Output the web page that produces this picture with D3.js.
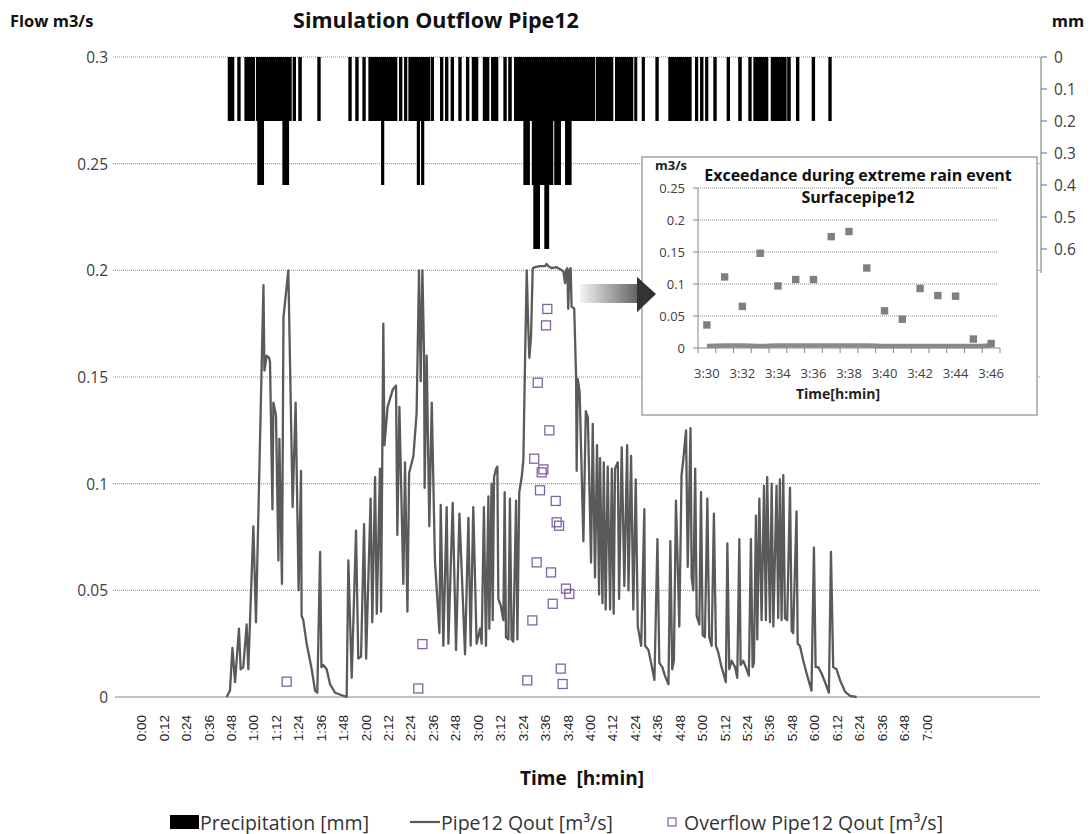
<!DOCTYPE html>
<html><head><meta charset="utf-8">
<script src="https://cdn.jsdelivr.net/npm/d3@7/dist/d3.min.js"></script>
<style>
body{margin:0;background:#fff;}
svg text{font-family:"Open Sans",Lato,sans-serif;}
</style></head><body>
<svg id="chart" width="1091" height="834"></svg>
<script>
// ---------------- DATA ----------------
const xTickLabels = ["0:00","0:12","0:24","0:36","0:48","1:00","1:12","1:24","1:36","1:48","2:00","2:12","2:24","2:36","2:48","3:00","3:12","3:24","3:36","3:48","4:00","4:12","4:24","4:36","4:48","5:00","5:12","5:24","5:36","5:48","6:00","6:12","6:24","6:36","6:48","7:00"];
const yTicks = [0, 0.05, 0.1, 0.15, 0.2, 0.25, 0.3];
const yTickLabels = ["0","0.05","0.1","0.15","0.2","0.25","0.3"];
const rTicks = [0, 0.1, 0.2, 0.3, 0.4, 0.5, 0.6];
const rTickLabels = ["0","0.1","0.2","0.3","0.4","0.5","0.6"];

// precipitation intervals [start min, end min] per depth level (mm)
const precipLevels = [0.2, 0.4, 0.6];
const precip02 = [[46.0,49.5],[51.1,52.9],[54.9,60.6],[61.1,80.2],[80.7,82.5],[83.7,85.6],[93.9,95.7],[110.5,112.3],[114.2,116.0],[118.0,119.8],[121.2,136.7],[137.6,139.4],[140.3,142.0],[142.6,154.2],[154.5,156.3],[159.5,161.3],[162.2,164.0],[165.2,167.0],[169.3,171.1],[173.4,175.2],[176.5,180.0],[182.4,185.9],[186.8,190.7],[193.4,195.2],[196.0,197.9],[199.1,242.4],[242.8,252.2],[253.1,262.9],[263.4,265.0],[267.4,269.1],[274.7,276.5],[281.6,294.1],[295.9,297.6],[298.6,300.4],[301.3,303.0],[305.7,307.5],[312.8,314.6],[319.0,320.9],[324.4,326.2],[327.1,335.1],[336.4,344.9],[345.2,347.1],[349.9,351.7],[358.3,360.1],[367.2,369.0]];
const precip04 = [[61.8,65.4],[75.2,78.8],[128.0,129.7],[147.1,148.8],[149.4,151.1],[204.1,207.6],[208.6,220.1],[220.6,224.2],[226.4,229.9]];
const precip06 = [[209.4,213.0],[215.3,217.9]];

// Pipe12 Qout [minute, m3/s]
const pipeQ = [[45.4,0],[47.2,0.003],[48.5,0.023],[49.9,0.007],[52.0,0.032],[52.9,0.013],[54.3,0.014],[56.1,0.034],[57.0,0.013],[59.7,0.080],[61.1,0.035],[65.1,0.193],[65.6,0.153],[66.8,0.160],[68.1,0.159],[68.6,0.157],[69.9,0.088],[70.4,0.138],[71.8,0.132],[73.1,0.064],[73.6,0.121],[75.0,0.053],[75.8,0.178],[78.4,0.200],[80.7,0.089],[82.3,0.138],[83.9,0.050],[85.2,0.106],[85.5,0.038],[86.4,0.036],[88.2,0.025],[90.9,0.013],[92.7,0.003],[93.9,0.002],[95.4,0.068],[96.1,0.014],[97.1,0.015],[98.9,0.013],[100.7,0.006],[103.4,0.002],[109.6,0],
[110.5,0.064],[112.3,0.009],[114.6,0.078],[115.8,0.018],[117.3,0.019],[118.9,0.081],[120.0,0.018],[122.4,0.093],[123.3,0.035],[124.8,0.103],[125.7,0.039],[127.4,0.107],[128.0,0.040],[129.2,0.175],[129.8,0.118],[131.5,0.136],[134.2,0.144],[136.0,0.146],[136.7,0.076],[137.8,0.136],[139.9,0.053],[140.8,0.110],[142.1,0.040],[143.0,0.105],[145.3,0.113],[147.0,0.133],[148.3,0.200],[149.2,0.148],[150.1,0.200],[151.0,0.160],[151.3,0.098],[152.4,0.160],[153.8,0.080],[155.1,0.138],[156.8,0.064],[159.2,0.030],[159.9,0.090],[161.3,0.024],[163.1,0.089],[164.0,0.025],[166.3,0.091],[168.1,0.022],[169.9,0.086],[172.9,0.020],[174.7,0.084],[175.9,0.024],[177.3,0.089],[179.1,0.025],
[180.9,0.032],[181.8,0.025],[183.0,0.089],[184.1,0.024],[185.4,0.094],[185.9,0.032],[187.1,0.100],[187.7,0.036],[188.4,0.103],[189.5,0.107],[190.2,0.108],[190.7,0.046],[192.0,0.043],[193.4,0.036],[194.1,0.096],[194.8,0.028],[196.1,0.027],[196.9,0.093],[197.8,0.027],[198.7,0.026],[200.2,0.092],[200.9,0.027],[201.9,0.096],[203.2,0.103],[204.1,0.111],[205.0,0.158],[205.9,0.200],[206.7,0.174],[207.3,0.159],[208.2,0.169],[209.1,0.201],[210.3,0.2015],[213.0,0.202],[215.7,0.202],[216.5,0.203],[217.4,0.202],[219.2,0.201],[221.9,0.2015],[224.6,0.200],[225.5,0.1995],[226.4,0.194],[226.9,0.200],[227.6,0.201],[228.1,0.182],[228.7,0.200],[229.4,0.201],[229.9,0.183],[231.3,0.182],[232.3,0.150],[232.6,0.106],[233.2,0.149],[234.2,0.143],[236.2,0.073],[237.5,0.134],[238.6,0.131],[240.3,0.063],[241.2,0.128],[242.4,0.056],[243.5,0.118],[244.6,0.048],[245.1,0.112],[246.4,0.044],[247.1,0.110],[248.1,0.041],[249.2,0.108],[250.5,0.041],[251.4,0.107],[252.4,0.039],[253.1,0.107],[254.6,0.110],[255.3,0.046],[256.7,0.117],[258.1,0.052],[259.6,0.118],[260.3,0.050],[261.7,0.113],[262.9,0.041],[264.2,0.102],[265.3,0.033],[267.1,0.024],[268.8,0.088],[269.2,0.024],[271.0,0.022],[272.4,0.016],[274.2,0.008],[275.8,0.074],[276.8,0.016],[278.4,0.014],[279.8,0.010],[281.7,0.006],[282.7,0.073],[283.7,0.013],
[284.6,0.017],[285.7,0.092],[286.4,0.070],[287.5,0.033],[288.7,0.104],[289.6,0.111],[291.1,0.125],[292.0,0.061],[293.5,0.126],[294.1,0.056],[295.0,0.050],[296.0,0.107],[296.8,0.038],[298.2,0.034],[299.1,0.096],[300.0,0.029],[301.2,0.028],[302.5,0.093],[303.5,0.028],[304.8,0.024],[306.0,0.086],[307.1,0.024],[308.3,0.021],[310.1,0.014],[312.4,0.007],[313.2,0.072],[314.2,0.013],[315.5,0.017],[317.3,0.014],[318.5,0.009],[319.6,0.074],[320.3,0.015],[321.7,0.017],[323.5,0.013],[324.7,0.010],[325.8,0.074],[326.7,0.014],[327.4,0.016],[328.5,0.085],[329.2,0.027],[330.3,0.093],[331.5,0.036],[332.8,0.099],[333.8,0.036],[334.5,0.103],[336.0,0.035],[336.9,0.100],[337.8,0.033],[339.5,0.099],[340.4,0.037],[341.3,0.102],[342.2,0.036],[343.1,0.104],[344.0,0.037],[345.2,0.036],[346.7,0.098],[347.6,0.031],[348.4,0.030],[350.2,0.087],[350.8,0.025],[352.0,0.024],[353.8,0.017],[355.6,0.011],[358.2,0.003],[359.5,0.070],[360.4,0.014],[361.8,0.014],[363.6,0.011],[365.4,0.007],[367.5,0.002],[368.6,0.068],[369.8,0.014],[371.6,0.013],[373.4,0.008],[376.1,0.0025],[378.8,0.0005],[382.3,0]];

// Overflow Pipe12 Qout
const overflowMinutes = [77.5,147.9,150.1,206.2,208.9,209.9,211.2,211.8,213.0,213.9,214.8,216.2,216.9,218.0,218.9,219.8,221.4,221.9,223.2,224.1,225.1,226.9,228.7];
const overflowQ = [0.0072,0.004,0.0248,0.0078,0.0359,0.1117,0.0631,0.1473,0.0969,0.1053,0.1067,0.1742,0.1819,0.125,0.0584,0.0437,0.0919,0.0819,0.0803,0.0133,0.0061,0.0508,0.0483];

// Inset: exceedance during extreme rain event
const insetTimes = ["3:30","3:31","3:32","3:33","3:34","3:35","3:36","3:37","3:38","3:39","3:40","3:41","3:42","3:43","3:44","3:45","3:46"];
const insetExceed = [0.036,0.111,0.065,0.148,0.097,0.107,0.107,0.174,0.182,0.125,0.058,0.045,0.093,0.082,0.081,0.014,0.007];
const insetSurface = [0.003,0.004,0.004,0.003,0.004,0.004,0.004,0.004,0.004,0.004,0.003,0.003,0.003,0.003,0.003,0.003,0.004];
const insetYTicks = [0,0.05,0.1,0.15,0.2,0.25];
const insetYLabels = ["0","0.05","0.1","0.15","0.2","0.25"];

// ---------------- CHART ----------------
const svg = d3.select("#chart");
const toMin = s => { const p = s.split(":"); return +p[0]*60 + +p[1]; };

const x = d3.scaleLinear().domain([-14.3, 480.4]).range([115, 1040]);
const y = d3.scaleLinear().domain([0, 0.3]).range([697, 57]);
const yR = d3.scaleLinear().domain([0, 2]).range([57, 697]);

// gridlines
svg.append("g").selectAll("line").data(yTicks.filter(d => d > 0)).join("line")
  .attr("x1", 113).attr("x2", 1040).attr("y1", d => y(d)).attr("y2", d => y(d))
  .attr("stroke", "#8c8c8c").attr("stroke-width", 1).attr("stroke-dasharray", "1,1");

// left tick labels
svg.append("g").selectAll("text").data(yTicks).join("text")
  .attr("x", 108).attr("y", d => y(d)).attr("text-anchor", "end").attr("dominant-baseline", "central")
  .attr("font-size", 15.5).attr("fill", "#404040").text((d, i) => yTickLabels[i]);

// x axis
svg.append("line").attr("x1", 115).attr("x2", 1040).attr("y1", y(0)).attr("y2", y(0))
  .attr("stroke", "#868686").attr("stroke-width", 1.2);
svg.append("g").selectAll("text").data(xTickLabels).join("text")
  .attr("transform", d => `translate(${x(toMin(d))},715) rotate(-90)`)
  .attr("text-anchor", "end").attr("dominant-baseline", "central")
  .style("font-family", "'Liberation Sans',Arial,sans-serif")
  .attr("font-size", 13.5).attr("fill", "#222").text(d => d);

// right axis
const rG = svg.append("g");
rG.append("line").attr("x1", 1041).attr("x2", 1041).attr("y1", yR(0)).attr("y2", yR(0.675))
  .attr("stroke", "#868686").attr("stroke-width", 1.2);
rG.selectAll("line.t").data(rTicks).join("line").attr("class", "t")
  .attr("x1", 1041).attr("x2", 1047).attr("y1", d => yR(d)).attr("y2", d => yR(d))
  .attr("stroke", "#868686").attr("stroke-width", 1.2);
rG.selectAll("text").data(rTicks).join("text")
  .attr("x", 1054).attr("y", d => yR(d)).attr("dominant-baseline", "central")
  .attr("font-size", 15.5).attr("fill", "#404040").text((d, i) => rTickLabels[i]);

// precipitation bars
[precip02, precip04, precip06].forEach((runs, li) => {
  svg.append("g").selectAll("rect").data(runs).join("rect")
    .attr("x", d => x(d[0])).attr("width", d => x(d[1]) - x(d[0]))
    .attr("y", yR(0)).attr("height", yR(precipLevels[li]) - yR(0))
    .attr("fill", "#000");
});

// flow line
svg.append("path").datum(pipeQ)
  .attr("d", d3.line().x(d => x(d[0])).y(d => y(d[1])))
  .attr("fill", "none").attr("stroke", "#5a5a5a").attr("stroke-width", 2.3)
  .attr("stroke-linejoin", "round");

// overflow squares
svg.append("g").selectAll("rect").data(overflowMinutes).join("rect")
  .attr("x", d => x(d) - 4.5).attr("y", (d, i) => y(overflowQ[i]) - 4.5)
  .attr("width", 9).attr("height", 9)
  .attr("fill", "none").attr("stroke", "#8064a2").attr("stroke-width", 1.3);

// titles
svg.append("text").attr("x", 10).attr("y", 27).attr("font-size", 16.5).attr("font-weight", "bold")
  .attr("fill", "#111").text("Flow m3/s");
svg.append("text").attr("x", 436).attr("y", 28).attr("text-anchor", "middle").attr("font-size", 21.5)
  .attr("font-weight", "bold").attr("fill", "#111").text("Simulation Outflow Pipe12");
svg.append("text").attr("x", 1068).attr("y", 27).attr("text-anchor", "middle").attr("font-size", 16.5)
  .attr("font-weight", "bold").attr("fill", "#111").text("mm");
svg.append("text").attr("x", 582).attr("y", 778).attr("text-anchor", "middle").attr("dominant-baseline", "central")
  .attr("font-size", 19).attr("font-weight", "bold").attr("fill", "#111")
  .style("white-space", "pre").text("Time  [h:min]");

// legend
const lg = svg.append("g").attr("font-size", 19.5);
lg.append("rect").attr("x", 170).attr("y", 815).attr("width", 29).attr("height", 14).attr("fill", "#000");
lg.append("text").attr("x", 200).attr("y", 822).attr("dominant-baseline", "central").attr("fill", "#333").text("Precipitation [mm]");
lg.append("line").attr("x1", 410).attr("x2", 440).attr("y1", 822).attr("y2", 822).attr("stroke", "#5a5a5a").attr("stroke-width", 2.2);
lg.append("text").attr("x", 441).attr("y", 822).attr("dominant-baseline", "central").attr("fill", "#333").text("Pipe12 Qout [m³/s]");
lg.append("rect").attr("x", 668).attr("y", 818).attr("width", 8).attr("height", 8).attr("fill", "none").attr("stroke", "#8064a2").attr("stroke-width", 1.2);
lg.append("text").attr("x", 684).attr("y", 822).attr("dominant-baseline", "central").attr("fill", "#333").text("Overflow Pipe12 Qout [m³/s]");

// arrow
const defs = svg.append("defs");
const grad = defs.append("linearGradient").attr("id", "arrowGrad").attr("x1", "0%").attr("x2", "100%");
grad.append("stop").attr("offset", "0%").attr("stop-color", "#f4f4f4");
grad.append("stop").attr("offset", "100%").attr("stop-color", "#333");
svg.append("polygon")
  .attr("points", "580,284 637,284 637,277 656,294 637,312 637,303 580,303")
  .attr("fill", "url(#arrowGrad)");

// ---------------- INSET ----------------
const ins = svg.append("g");
ins.append("rect").attr("x", 642).attr("y", 157).attr("width", 395).attr("height", 258)
  .attr("fill", "#fff").attr("stroke", "#8c8c8c").attr("stroke-width", 1.2);
svg.append("polygon")
  .attr("points", "637,277 656,294 637,312")
  .attr("fill", "#333");

const ix = d3.scaleBand().domain(insetTimes).range([698, 1000]);
const iy = d3.scaleLinear().domain([0, 0.25]).range([348, 188]);

ins.append("g").selectAll("line").data(insetYTicks.filter(d => d > 0)).join("line")
  .attr("x1", 698).attr("x2", 998).attr("y1", d => iy(d)).attr("y2", d => iy(d))
  .attr("stroke", "#8c8c8c").attr("stroke-dasharray", "1,1");
ins.append("line").attr("x1", 698).attr("x2", 698).attr("y1", iy(0)).attr("y2", iy(0.25)).attr("stroke", "#868686");
ins.append("g").selectAll("line").data(insetYTicks).join("line")
  .attr("x1", 693).attr("x2", 698).attr("y1", d => iy(d)).attr("y2", d => iy(d)).attr("stroke", "#868686");
ins.append("g").selectAll("text").data(insetYTicks).join("text")
  .attr("x", 685).attr("y", d => iy(d)).attr("text-anchor", "end").attr("dominant-baseline", "central")
  .attr("font-size", 13).attr("fill", "#404040").text((d, i) => insetYLabels[i]);
ins.append("line").attr("x1", 698).attr("x2", 1000).attr("y1", iy(0)).attr("y2", iy(0)).attr("stroke", "#868686");
ins.append("g").selectAll("line").data(insetTimes.concat(["end"])).join("line")
  .attr("x1", (d, i) => 698 + i * ix.step()).attr("x2", (d, i) => 698 + i * ix.step())
  .attr("y1", iy(0)).attr("y2", iy(0) + 5).attr("stroke", "#868686");
ins.append("g").selectAll("text").data(insetTimes.filter((d, i) => i % 2 === 0)).join("text")
  .attr("x", d => ix(d) + ix.bandwidth() / 2).attr("y", 373).attr("text-anchor", "middle")
  .attr("dominant-baseline", "central").attr("font-size", 13).attr("fill", "#404040").text(d => d);

ins.append("path").datum(insetSurface)
  .attr("d", d3.line().x((d, i) => ix(insetTimes[i]) + ix.bandwidth() / 2).y(d => iy(d)).curve(d3.curveMonotoneX))
  .attr("fill", "none").attr("stroke", "#8a8a8a").attr("stroke-width", 4.5);
ins.append("g").selectAll("rect").data(insetExceed).join("rect")
  .attr("x", (d, i) => ix(insetTimes[i]) + ix.bandwidth() / 2 - 3.7).attr("y", d => iy(d) - 3.7)
  .attr("width", 7.4).attr("height", 7.4).attr("fill", "#7f7f7f");

ins.append("text").attr("x", 655).attr("y", 170).attr("font-size", 13).attr("font-weight", "bold")
  .attr("fill", "#222").text("m3/s");
ins.append("text").attr("x", 858).attr("y", 181).attr("text-anchor", "middle").attr("font-size", 16)
  .attr("font-weight", "bold").attr("fill", "#111").text("Exceedance during extreme rain event");
ins.append("text").attr("x", 858).attr("y", 203).attr("text-anchor", "middle").attr("font-size", 16)
  .attr("font-weight", "bold").attr("fill", "#111").text("Surfacepipe12");
ins.append("text").attr("x", 838).attr("y", 393).attr("text-anchor", "middle").attr("dominant-baseline", "central")
  .attr("font-size", 14).attr("font-weight", "bold").attr("fill", "#222").text("Time[h:min]");
</script>
</body></html>
